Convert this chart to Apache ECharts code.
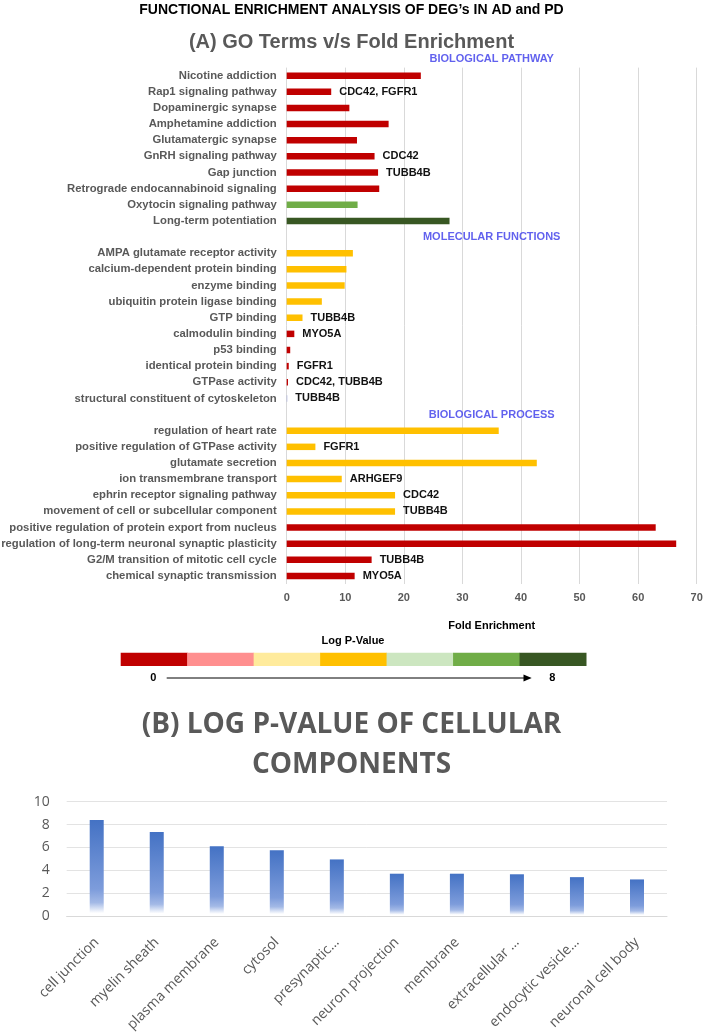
<!DOCTYPE html>
<html><head><meta charset="utf-8">
<script src="https://cdn.jsdelivr.net/npm/echarts@6/dist/echarts.min.js"></script>
<style>html,body{margin:0;padding:0;background:#fff}#c{width:703px;height:1032px}</style>
</head><body><div id="c"></div>
<script>
// ---------- DATA ----------
const mainTitle = 'FUNCTIONAL ENRICHMENT ANALYSIS OF DEG\u2019s IN AD and PD';
const titleA = '(A) GO Terms v/s Fold Enrichment';
const titleBLines = ['(B) LOG P-VALUE OF CELLULAR', 'COMPONENTS'];
const sectionTitles = ['BIOLOGICAL PATHWAY', 'MOLECULAR FUNCTIONS', 'BIOLOGICAL PROCESS'];

const pathwayNames = ['Nicotine addiction','Rap1 signaling pathway','Dopaminergic synapse','Amphetamine addiction','Glutamatergic synapse','GnRH signaling pathway','Gap junction','Retrograde endocannabinoid signaling','Oxytocin signaling pathway','Long-term potentiation'];
const pathwayFold = [22.9, 7.6, 10.7, 17.4, 12.0, 15.0, 15.6, 15.8, 12.1, 27.8];
const pathwayPClass = [0, 0, 0, 0, 0, 0, 0, 0, 5, 6];
const pathwayGenes = ['', 'CDC42, FGFR1', '', '', '', 'CDC42', 'TUBB4B', '', '', ''];

const mfNames = ['AMPA glutamate receptor activity','calcium-dependent protein binding','enzyme binding','ubiquitin protein ligase binding','GTP binding','calmodulin binding','p53 binding','identical protein binding','GTPase activity','structural constituent of cytoskeleton'];
const mfFold = [11.3, 10.2, 9.9, 6.0, 2.7, 1.3, 0.6, 0.35, 0.22, 0.1];
const mfPClass = [3, 3, 3, 3, 3, 0, 0, 0, 0, -1];
const mfGenes = ['', '', '', '', 'TUBB4B', 'MYO5A', '', 'FGFR1', 'CDC42, TUBB4B', 'TUBB4B'];

const procNames = ['regulation of heart rate','positive regulation of GTPase activity','glutamate secretion','ion transmembrane transport','ephrin receptor signaling pathway','movement of cell or subcellular component','positive regulation of protein export from nucleus','regulation of long-term neuronal synaptic plasticity','G2/M transition of mitotic cell cycle','chemical synaptic transmission'];
const procFold = [36.2, 4.9, 42.7, 9.4, 18.5, 18.5, 63.0, 66.5, 14.5, 11.6];
const procPClass = [3, 3, 3, 3, 3, 3, 0, 0, 0, 0];
const procGenes = ['', 'FGFR1', '', 'ARHGEF9', 'CDC42', 'TUBB4B', '', '', 'TUBB4B', 'MYO5A'];

const pLegendTitle = 'Log P-Value';
const pLegendColors = ['#c00000', '#ff8f8f', '#ffeb9c', '#ffc000', '#cce6c0', '#70ad47', '#385723'];
const pLegendEnds = ['0', '8'];
const unclassifiedColor = '#a9afdf';

const ccNames = ['cell junction','myelin sheath','plasma membrane','cytosol','presynaptic\u2026','neuron projection','membrane','extracellular \u2026','endocytic vesicle\u2026','neuronal cell body'];
const ccLogP = [8.4, 7.35, 6.1, 5.75, 4.95, 3.7, 3.7, 3.65, 3.4, 3.2];

// ---------- BUILD ----------
const gap1 = ' ', gap2 = '  ';
const catA = [...pathwayNames, gap1, ...mfNames, gap2, ...procNames];
const foldA = [...pathwayFold, '-', ...mfFold, '-', ...procFold];
const classA = [...pathwayPClass, null, ...mfPClass, null, ...procPClass];
const genesA = [...pathwayGenes, '', ...mfGenes, '', ...procGenes];

const barDataA = foldA.map((v, i) => ({
  value: v,
  itemStyle: { color: classA[i] != null && classA[i] >= 0 ? pLegendColors[classA[i]] : unclassifiedColor }
}));

const FONT = '"Liberation Sans", Arial, sans-serif';
const OPEN = '"Open Sans", sans-serif';
const chart = echarts.init(document.getElementById('c'), null, { renderer: 'canvas' });

// legend geometry (layout only)
const legX0 = 120.7, legW = 465.3, legY = 652.7, legH = 13.3;
const segW = legW / pLegendColors.length;
const legendGraphics = pLegendColors.map((c, i) => ({
  type: 'rect', shape: { x: legX0 + i * segW, y: legY, width: segW + 0.5, height: legH },
  style: { fill: c }
}));
legendGraphics.push(
  { type: 'text', x: 353, y: 641, style: { text: pLegendTitle, fill: '#000', font: 'bold 11px ' + FONT, textAlign: 'center', textVerticalAlign: 'middle' } },
  { type: 'text', x: 153.3, y: 678, style: { text: pLegendEnds[0], fill: '#000', font: 'bold 11px ' + FONT, textAlign: 'center', textVerticalAlign: 'middle' } },
  { type: 'text', x: 552.3, y: 678, style: { text: pLegendEnds[1], fill: '#000', font: 'bold 11px ' + FONT, textAlign: 'center', textVerticalAlign: 'middle' } },
  { type: 'line', shape: { x1: 166.7, y1: 678, x2: 525, y2: 678 }, style: { stroke: '#000', lineWidth: 1 } },
  { type: 'polygon', shape: { points: [[523.5, 674.5], [531.7, 678], [523.5, 681.5]] }, style: { fill: '#000' } }
);

const option = {
  animation: false,
  backgroundColor: '#fff',
  title: [
    { text: mainTitle, left: 'center', top: -2, textStyle: { fontFamily: FONT, fontSize: 14, fontWeight: 'bold', color: '#000' } },
    { text: titleA, left: 'center', top: 27, textStyle: { fontFamily: FONT, fontSize: 20, fontWeight: 'bold', color: '#595959' } },
    { text: titleBLines[0], left: 'center', top: 706, textStyle: { fontFamily: OPEN, fontSize: 28, fontWeight: 'bold', color: '#595959' } },
    { text: titleBLines[1], left: 'center', top: 746, textStyle: { fontFamily: OPEN, fontSize: 28, fontWeight: 'bold', color: '#595959' } }
  ],
  grid: [
    { left: 286.7, right: 6.3, top: 67.6, bottom: 1032 - 584, outerBoundsMode: 'none', containLabel: false },
    { left: 66.7, right: 36, top: 801.7, bottom: 1032 - 916, outerBoundsMode: 'none', containLabel: false }
  ],
  xAxis: [
    {
      gridIndex: 0, type: 'value', min: 0, max: 70, interval: 10,
      name: 'Fold Enrichment', nameLocation: 'middle', nameGap: 36,
      nameTextStyle: { fontFamily: FONT, fontSize: 11, fontWeight: 'bold', color: '#000' },
      axisLine: { show: false }, axisTick: { show: false },
      axisLabel: { fontFamily: FONT, fontSize: 11, fontWeight: 'bold', color: '#595959', margin: 8 },
      splitLine: { show: true, lineStyle: { color: '#d9d9d9', width: 1 } }
    },
    {
      gridIndex: 1, type: 'category', data: ccNames,
      axisLine: { show: true, lineStyle: { color: '#d9d9d9' } }, axisTick: { show: false },
      axisLabel: { rotate: 45, interval: 0, fontFamily: OPEN, fontSize: 14, color: '#595959', margin: 24 }
    }
  ],
  yAxis: [
    {
      gridIndex: 0, type: 'category', data: catA, inverse: true,
      axisLine: { show: false }, axisTick: { show: false },
      axisLabel: { interval: 0, fontFamily: FONT, fontSize: 11.3, fontWeight: 'bold', color: '#595959', margin: 10 }
    },
    {
      gridIndex: 1, type: 'value', min: 0, max: 10, interval: 2,
      axisLine: { show: false }, axisTick: { show: false },
      axisLabel: { fontFamily: OPEN, fontSize: 14, color: '#595959', margin: 17 },
      splitLine: { lineStyle: { color: '#e3e3e3', width: 1 } }
    }
  ],
  series: [
    {
      type: 'bar', xAxisIndex: 0, yAxisIndex: 0, data: barDataA, barWidth: 6.5,
      label: {
        show: true, position: 'right', distance: 8,
        formatter: p => genesA[p.dataIndex] || '',
        fontFamily: FONT, fontSize: 11, fontWeight: 'bold', color: '#111'
      }
    },
    {
      type: 'scatter', xAxisIndex: 0, yAxisIndex: 0, symbolSize: 0, silent: true,
      data: [
        { value: [35, pathwayNames[0]], label: { offset: [0, -16.3] } },
        { value: [35, gap1] },
        { value: [35, gap2] }
      ],
      label: {
        show: true, position: 'inside',
        formatter: p => sectionTitles[p.dataIndex],
        fontFamily: FONT, fontSize: 11, fontWeight: 'bold', color: '#3a3aea'
      }
    },
    {
      type: 'bar', xAxisIndex: 1, yAxisIndex: 1, data: ccLogP, barWidth: 14,
      itemStyle: {
        color: new echarts.graphic.LinearGradient(0, 0, 0, 1, [
          { offset: 0, color: '#4472c4' },
          { offset: 0.72, color: '#7d9cdb' },
          { offset: 0.86, color: '#a3b9e6' },
          { offset: 0.97, color: '#ffffff' },
          { offset: 1, color: '#ffffff' }
        ])
      }
    }
  ],
  graphic: legendGraphics
};
chart.setOption(option);
</script>
</body></html>
